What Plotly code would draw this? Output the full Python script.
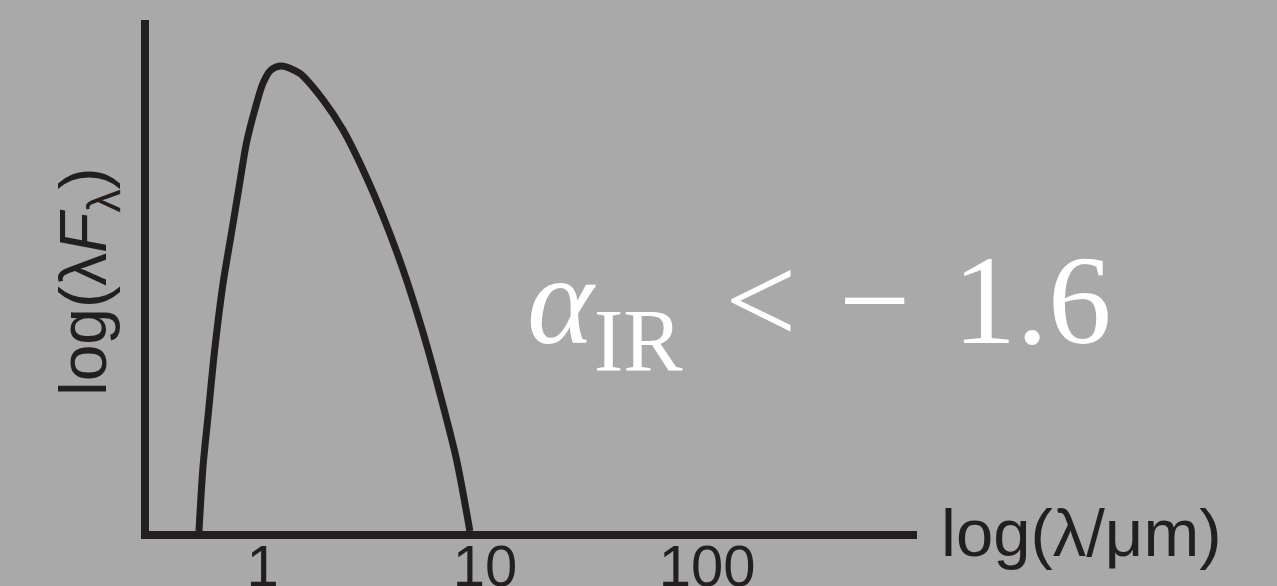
import plotly.graph_objects as go

# Spectral energy distribution (wavelength in micron, relative flux)
wavelength = [0.5164, 0.5383, 0.5670, 0.6076, 0.6627, 0.7228, 0.7876, 0.8444, 0.9203,
              1.003, 1.087, 1.214, 1.468, 1.869, 2.300, 2.830, 3.483, 4.285, 5.274,
              6.270, 7.457, 8.557]
flux = [0.0, 0.138, 0.246, 0.390, 0.533, 0.641, 0.749, 0.835, 0.906,
        0.964, 0.992, 1.001, 0.985, 0.928, 0.863, 0.777, 0.677, 0.562, 0.426,
        0.296, 0.153, 0.0]

tick_values = [1, 10, 100]
tick_text = ['1', '10', '100']

ink = '#231f20'
bg = '#a9a9a9'

W, H = 1277, 586
left, right, top, bottom = 149, 917, 20, 531


def px(x, y):
    # pixel position -> paper coordinates
    return (x - left) / (right - left), (bottom - y) / (bottom - top)


fig = go.Figure()

fig.add_trace(go.Scatter(
    x=wavelength,
    y=flux,
    mode='lines',
    line=dict(color=ink, width=7, shape='spline', smoothing=0.8),
    hoverinfo='skip',
    showlegend=False
))

fig.update_xaxes(
    type='log',
    range=[-0.512, 2.945],
    automargin=False,
    showgrid=False,
    zeroline=False,
    showline=True,
    linecolor=ink,
    linewidth=7.5,
    ticks='',
    ticklabelstandoff=-22,
    tickvals=tick_values,
    ticktext=tick_text,
    tickfont=dict(family='Liberation Sans, Arial, sans-serif', size=58, color=ink)
)
fig.update_yaxes(
    range=[0, 1.1],
    automargin=False,
    showgrid=False,
    zeroline=False,
    showline=True,
    linecolor=ink,
    linewidth=7.5,
    showticklabels=False,
    ticks=''
)

# axis titles and the label
ax, ay = px(1081, 532)
fig.add_annotation(x=ax, y=ay, xref='paper', yref='paper',
                   text='log(λ/μm)', showarrow=False,
                   xanchor='center', yanchor='middle',
                   font=dict(family='Liberation Sans, Arial, sans-serif', size=67, color=ink))

tx, ty = px(88, 282)
fig.add_annotation(x=tx, y=ty, xref='paper', yref='paper',
                   text='log(λ<i>F</i><sub>λ</sub>)', showarrow=False, textangle=-90,
                   xanchor='center', yanchor='middle',
                   font=dict(family='Liberation Sans, Arial, sans-serif', size=66, color=ink))

lx, ly = px(525, 309)
fig.add_annotation(x=lx, y=ly, xref='paper', yref='paper',
                   text='<i>α</i><sub>IR</sub>\u200a &lt;\u200a − \u200a1.6', showarrow=False,
                   xanchor='left', yanchor='middle',
                   font=dict(family='Liberation Serif, Times New Roman, serif', size=127, color='white'))

fig.update_layout(
    width=W,
    height=H,
    margin=dict(l=left, r=W - right, t=top, b=H - bottom),
    paper_bgcolor=bg,
    plot_bgcolor=bg,
    showlegend=False
)

fig.write_html('out.html', config={'displayModeBar': False},
               post_script="document.body.style.margin='0';")
